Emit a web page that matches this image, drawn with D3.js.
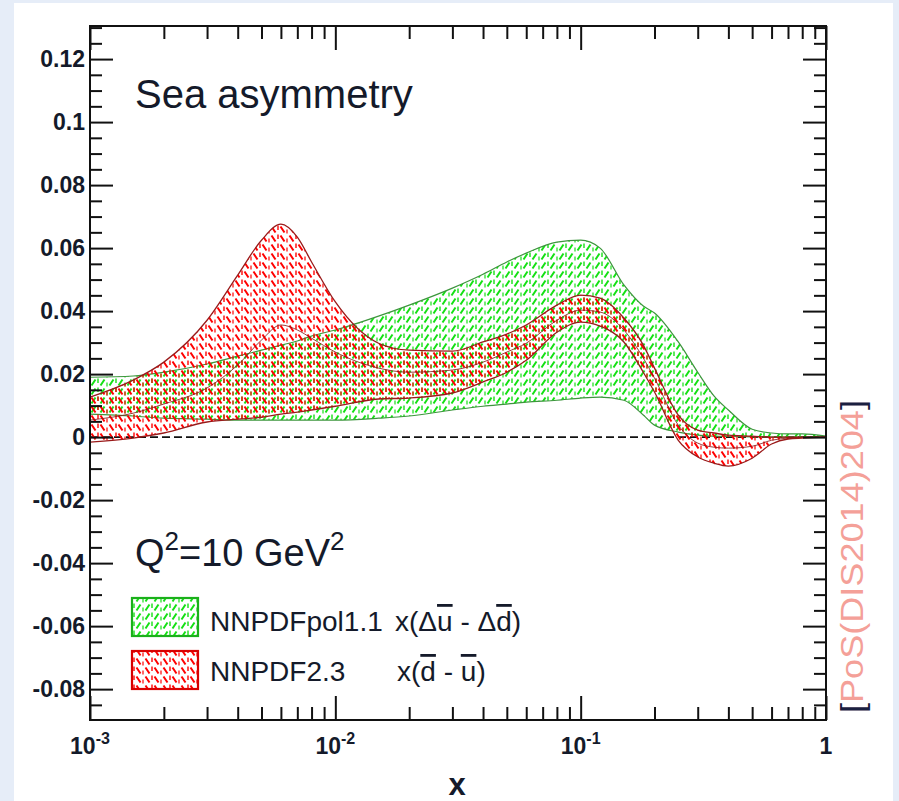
<!DOCTYPE html>
<html><head><meta charset="utf-8">
<script src="https://cdn.jsdelivr.net/npm/d3@7"></script>
<style>
html,body{margin:0;padding:0;background:#e6edf8;}
svg{display:block;}
text{font-family:"Liberation Sans",Arial,Helvetica,sans-serif;}
</style></head>
<body>
<svg id="chart" width="899" height="801"></svg>
<script>
// ---- data ----
const xVals = [0.001,0.0015,0.002,0.003,0.004,0.005,0.006,0.007,0.008,0.01,0.015,0.02,0.03,0.04,0.05,0.06,0.08,0.1,0.12,0.15,0.18,0.2,0.25,0.3,0.35,0.4,0.5,0.6,0.7,0.8,1];
const polUpper = [0.0190,0.0194,0.0206,0.0232,0.0257,0.0276,0.0292,0.0305,0.0321,0.0340,0.0384,0.0419,0.0473,0.0517,0.0556,0.0584,0.0619,0.0625,0.0600,0.0483,0.0416,0.0394,0.0302,0.0206,0.0130,0.0086,0.0025,0.0013,0.0010,0.0010,0.0003];
const polLower = [0.0073,0.0067,0.0060,0.0057,0.0054,0.0054,0.0054,0.0054,0.0054,0.0054,0.0060,0.0067,0.0086,0.0098,0.0105,0.0111,0.0117,0.0124,0.0127,0.0117,0.0070,0.0038,0.0016,0.0006,0.0003,0.0002,0.0001,0,0,0,0];
const unpUpper = [0.0127,0.0181,0.0238,0.0371,0.0514,0.0625,0.0676,0.0635,0.0556,0.0429,0.0298,0.0276,0.0273,0.0302,0.0327,0.0356,0.0419,0.0451,0.0441,0.0378,0.0292,0.0219,0.0070,0.0022,0.0013,0.0006,0.0003,0,0,0,0];
const unpLower = [-0.0016,-0.0003,0.0013,0.0048,0.0057,0.0063,0.0073,0.0079,0.0086,0.0098,0.0121,0.0124,0.0140,0.0175,0.0206,0.0244,0.0333,0.0365,0.0352,0.0302,0.0206,0.0143,-0.0010,-0.0063,-0.0083,-0.0092,-0.0067,-0.0022,-0.0006,-0.0003,0];
const unpCentral = [0.0054,0.0076,0.0105,0.0156,0.0229,0.0308,0.0356,0.0340,0.0314,0.0270,0.0219,0.0206,0.0213,0.0238,0.0270,0.0298,0.0371,0.0403,0.0397,0.0340,0.0251,0.0187,0.0038,-0.0019,-0.0032,-0.0035,-0.0029,-0.0010,-0.0003,0,0];

const yMajorTicks = [-0.08,-0.06,-0.04,-0.02,0,0.02,0.04,0.06,0.08,0.1,0.12];
const yTickLabels = ["-0.08","-0.06","-0.04","-0.02","0","0.02","0.04","0.06","0.08","0.1","0.12"];
const xMajorTicks = [0.001,0.01,0.1,1];
const xTickBase = ["10","10","10","1"];
const xTickExp = ["-3","-2","-1",""];

const W = 899, H = 801;
const svg = d3.select("#chart");

// panel background
svg.append("rect").attr("x",14).attr("y",3).attr("width",879).attr("height",H-3).attr("fill","#ffffff");

const x = d3.scaleLog().domain([1e-3,1]).range([90,826]);
const y = d3.scaleLinear().domain([-0.0898,0.1305]).range([720,26]);

// patterns
const defs = svg.append("defs");
function hatch(id, color, diag){
  const p = defs.append("pattern").attr("id",id).attr("patternUnits","userSpaceOnUse")
    .attr("width",18).attr("height",9);
  const d = diag==="/" ? "M1.5,7.5 L5.5,1.5 M10.5,7.5 L14.5,1.5" : "M1.5,1.5 L5.5,7.5 M10.5,1.5 L14.5,7.5";
  p.append("path").attr("d",d).attr("stroke",color).attr("stroke-width",2).attr("fill","none");
  p.append("path").attr("d","M8,0.5 L8,5").attr("stroke",color).attr("stroke-width",1.4).attr("fill","none");
  p.append("path").attr("d","M17,4.5 L17,8.5").attr("stroke",color).attr("stroke-width",1.2).attr("fill","none");
}
hatch("hatchG","#14e014","/");
hatch("hatchR","#ff0000","\\");

// zero line
svg.append("line").attr("x1",x(1e-3)).attr("x2",x(1)).attr("y1",y(0)).attr("y2",y(0))
  .attr("stroke","#111").attr("stroke-width",1.6).attr("stroke-dasharray","8,4");

const idx = d3.range(xVals.length);
const area = (lo,hi) => d3.area().x(i=>x(xVals[i])).y0(i=>y(lo[i])).y1(i=>y(hi[i])).curve(d3.curveMonotoneX);
const line = arr => d3.line().x(i=>x(xVals[i])).y(i=>y(arr[i])).curve(d3.curveMonotoneX);

// polarized (green)
svg.append("path").attr("d",area(polLower,polUpper)(idx)).attr("fill","url(#hatchG)").attr("stroke","none");
svg.append("path").attr("d",line(polUpper)(idx)).attr("fill","none").attr("stroke","#3d963d").attr("stroke-width",1.2);
svg.append("path").attr("d",line(polLower)(idx)).attr("fill","none").attr("stroke","#3d963d").attr("stroke-width",1.2);

// unpolarized (red)
svg.append("path").attr("d",area(unpLower,unpUpper)(idx)).attr("fill","url(#hatchR)").attr("stroke","none");
svg.append("path").attr("d",line(unpUpper)(idx)).attr("fill","none").attr("stroke","#9a1a1a").attr("stroke-width",1.3);
svg.append("path").attr("d",line(unpLower)(idx)).attr("fill","none").attr("stroke","#9a1a1a").attr("stroke-width",1.3);
svg.append("path").attr("d",line(unpCentral)(idx)).attr("fill","none").attr("stroke","#8a1a1a").attr("stroke-width",1).attr("stroke-opacity",0.85);

// axes
const yMinor = d3.range(-0.085,0.1301,0.005).filter(v=>Math.abs(Math.round(v*50)-v*50)>1e-6);
const xMinor = [];
[0.001,0.01,0.1].forEach(d=>{for(let k=2;k<10;k++) xMinor.push(d*k);});

function styleAxis(g){ g.select(".domain").remove(); g.selectAll("line").attr("stroke","#111").attr("stroke-width",2); }

const gl = svg.append("g").attr("transform","translate(90,0)")
  .call(d3.axisLeft(y).tickValues(yMajorTicks).tickSize(-23).tickPadding(5)
    .tickFormat((d,i)=>yTickLabels[i]));
styleAxis(gl);
gl.selectAll("text").attr("font-size",23).attr("font-weight","bold").attr("fill","#141a2a")
  .attr("font-family","'Liberation Sans',Arial,sans-serif");
svg.append("g").attr("transform","translate(90,0)")
  .call(d3.axisLeft(y).tickValues(yMinor).tickSize(-12).tickFormat("")).call(styleAxis);
svg.append("g").attr("transform","translate(826,0)")
  .call(d3.axisRight(y).tickValues(yMajorTicks).tickSize(-23).tickFormat("")).call(styleAxis);
svg.append("g").attr("transform","translate(826,0)")
  .call(d3.axisRight(y).tickValues(yMinor).tickSize(-12).tickFormat("")).call(styleAxis);

svg.append("g").attr("transform","translate(0,720)")
  .call(d3.axisBottom(x).tickValues(xMajorTicks).tickSize(-24).tickFormat("")).call(styleAxis);
svg.append("g").attr("transform","translate(0,720)")
  .call(d3.axisBottom(x).tickValues(xMinor).tickSize(-13).tickFormat("")).call(styleAxis);
svg.append("g").attr("transform","translate(0,26)")
  .call(d3.axisTop(x).tickValues(xMajorTicks).tickSize(-24).tickFormat("")).call(styleAxis);
svg.append("g").attr("transform","translate(0,26)")
  .call(d3.axisTop(x).tickValues(xMinor).tickSize(-13).tickFormat("")).call(styleAxis);

// x tick labels with superscripts
xMajorTicks.forEach((v,i)=>{
  const t = svg.append("text").attr("x",x(v)).attr("y",754).attr("text-anchor","middle")
    .attr("font-size",23).attr("font-weight","bold").attr("fill","#141a2a");
  t.append("tspan").text(xTickBase[i]);
  if(xTickExp[i]) t.append("tspan").attr("dy",-10).attr("font-size",16).text(xTickExp[i]);
});

// frame
svg.append("rect").attr("x",90).attr("y",26).attr("width",736).attr("height",694)
  .attr("fill","none").attr("stroke","#111").attr("stroke-width",2);

// axis title
svg.append("text").attr("x",457).attr("y",795).attr("text-anchor","middle")
  .attr("font-size",31).attr("font-weight","bold").attr("fill","#141a2a").text("x");

// plot texts
svg.append("text").attr("x",135).attr("y",108).attr("font-size",40).attr("fill","#141a2a").text("Sea asymmetry");
const q = svg.append("text").attr("x",135).attr("y",566).attr("font-size",38).attr("fill","#141a2a");
q.append("tspan").text("Q");
q.append("tspan").attr("dy",-16).attr("font-size",26).text("2");
q.append("tspan").attr("dy",16).text("=10 GeV");
q.append("tspan").attr("dy",-16).attr("font-size",26).text("2");

// legend
const legend = [
  {fill:"url(#hatchG)", stroke:"#1ab01a", y:598, name:"NNPDFpol1.1", base:631},
  {fill:"url(#hatchR)", stroke:"#d80000", y:651, name:"NNPDF2.3", base:681}
];
legend.forEach(l=>{
  svg.append("rect").attr("x",132).attr("y",l.y).attr("width",66).attr("height",38)
    .attr("fill","#fff").attr("stroke","none");
  svg.append("rect").attr("x",132).attr("y",l.y).attr("width",66).attr("height",38)
    .attr("fill",l.fill).attr("stroke",l.stroke).attr("stroke-width",2.2);
  svg.append("text").attr("x",210).attr("y",l.base).attr("font-size",28).attr("fill","#141a2a").text(l.name);
});
const t1 = svg.append("text").attr("x",395).attr("y",631).attr("font-size",28).attr("fill","#141a2a");
t1.append("tspan").text("x(Δ");
t1.append("tspan").style("text-decoration","overline").text("u");
t1.append("tspan").text(" - Δ");
t1.append("tspan").style("text-decoration","overline").text("d");
t1.append("tspan").text(")");
const t2 = svg.append("text").attr("x",397).attr("y",681).attr("font-size",28).attr("fill","#141a2a");
t2.append("tspan").text("x(");
t2.append("tspan").style("text-decoration","overline").text("d");
t2.append("tspan").text(" - ");
t2.append("tspan").style("text-decoration","overline").text("u");
t2.append("tspan").text(")");

// side reference
const s = svg.append("text").attr("transform","translate(863,713) rotate(-90)").attr("font-size",31)
  .attr("textLength",313).attr("lengthAdjust","spacingAndGlyphs");
s.append("tspan").attr("fill","#1a2040").text("[");
s.append("tspan").attr("fill","#f4a098").text("PoS(DIS2014)204");
s.append("tspan").attr("fill","#1a2040").text("]");
</script>
</body></html>
